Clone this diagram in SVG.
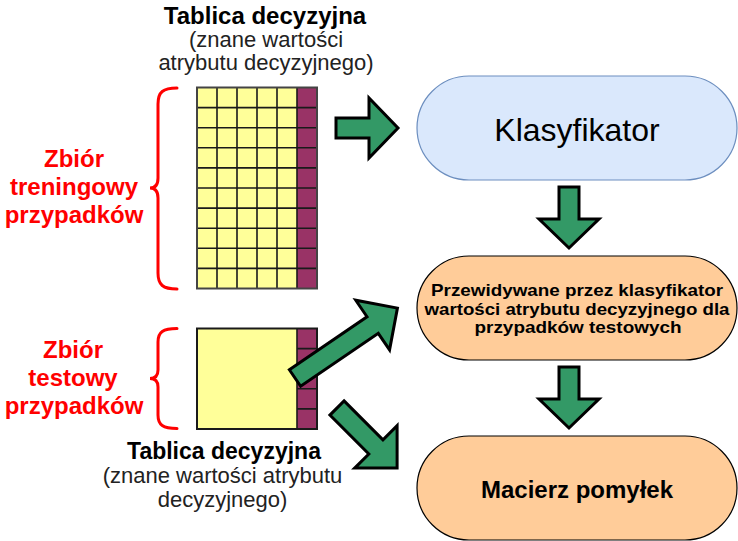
<svg xmlns="http://www.w3.org/2000/svg" width="738" height="541" viewBox="0 0 738 541">
<style>
text{font-family:"Liberation Sans",Arial,sans-serif;text-anchor:middle}
.red{fill:#ff0000;font-weight:bold;font-size:24px}
.ttl{fill:#000;font-weight:bold}
.sub{fill:#222;font-size:22px}
.brace{fill:none;stroke:#ff0000;stroke-width:3;stroke-linecap:round}
.yel{fill:#ffff99}
.pur{fill:#993366}
.gl{fill:none;stroke:#1a1a1a;stroke-width:1.6}
.border{fill:none;stroke:#444;stroke-width:2}
.arrow{fill:#339966;stroke:#000;stroke-width:3;stroke-linejoin:miter}
.term{stroke-width:1.2}
</style>
<rect width="738" height="541" fill="#fff"/>

<g id="train-label">
<text class="red" x="74" y="167">Zbiór</text>
<text class="red" x="74" y="195">treningowy</text>
<text class="red" x="74" y="223">przypadków</text>
<path class="brace" d="M177,88 C163,88 158,92 158,104 L158,178 C158,185 155,188 150,188 C155,188 158,191 158,198 L158,273 C158,285 163,289 177,289"/>
</g>

<g id="train-table">
<text class="ttl" x="265" y="24" font-size="24">Tablica decyzyjna</text>
<text class="sub" x="266" y="47">(znane wartości</text>
<text class="sub" x="266" y="70">atrybutu decyzyjnego)</text>
<rect class="yel" x="197" y="87.5" width="100" height="201"/>
<rect class="pur" x="297" y="87.5" width="20" height="201"/>
<path class="gl" d="M217,87.5V288.5M237,87.5V288.5M257,87.5V288.5M277,87.5V288.5M297,87.5V288.5M197,107.6H317M197,127.7H317M197,147.8H317M197,167.9H317M197,188H317M197,208.1H317M197,228.2H317M197,248.3H317M197,268.4H317"/>
<rect class="border" x="197" y="87.5" width="120" height="201"/>
</g>

<g id="test-label">
<text class="red" x="73" y="358">Zbiór</text>
<text class="red" x="73" y="386">testowy</text>
<text class="red" x="74" y="414">przypadków</text>
<path class="brace" d="M177,328.5 C163,328.5 158,332 158,342 L158,370 C158,376 155,378.5 150,378.5 C155,378.5 158,381 158,387 L158,415 C158,425 163,428.5 177,428.5"/>
</g>

<g id="test-table">
<rect class="yel" x="197" y="328.5" width="100" height="100.5"/>
<rect class="pur" x="297" y="328.5" width="20" height="100.5"/>
<path class="gl" d="M297,328.5V429M297,348.6H317M297,368.7H317M297,388.8H317M297,408.9H317"/>
<rect fill="none" stroke="#1a1a1a" stroke-width="2" x="197" y="328.5" width="120" height="100.5"/>
<text class="ttl" x="224" y="459" font-size="23">Tablica decyzyjna</text>
<text class="sub" x="222.5" y="483">(znane wartości atrybutu</text>
<text class="sub" x="222.5" y="507">decyzyjnego)</text>
</g>

<g id="klasyfikator">
<rect x="417" y="76" width="320" height="104" rx="52" ry="52" fill="#dae8fc" stroke="#6c8ebf" stroke-width="1.2"/>
<text x="577" y="141" font-size="32" fill="#000">Klasyfikator</text>
</g>

<g id="przewidywane">
<rect class="term" x="417" y="256" width="320" height="104" rx="52" ry="52" fill="#ffcc99" stroke="#000"/>
<text class="ttl" x="577" y="296" font-size="16.5" textLength="292" lengthAdjust="spacingAndGlyphs">Przewidywane przez klasyfikator</text>
<text class="ttl" x="577" y="314.5" font-size="16.5" textLength="305" lengthAdjust="spacingAndGlyphs">wartości atrybutu decyzyjnego dla</text>
<text class="ttl" x="578" y="333" font-size="16.5" textLength="207" lengthAdjust="spacingAndGlyphs">przypadków testowych</text>
</g>

<g id="macierz">
<rect class="term" x="417" y="436" width="320" height="104" rx="52" ry="52" fill="#ffcc99" stroke="#000"/>
<text class="ttl" x="577" y="498" font-size="24">Macierz pomyłek</text>
</g>

<g id="connectors">
<path class="arrow" d="M336,118 L369,118 L369,98 L398,128 L369,158 L369,138 L336,138 Z"/>
<path class="arrow" d="M559,187 L579,187 L579,219 L599,219 L569,248 L539,219 L559,219 Z"/>
<path class="arrow" d="M559,367 L579,367 L579,399 L599,399 L569,428 L539,399 L559,399 Z"/>
<path class="arrow" transform="translate(295,378) rotate(-34.3)" d="M0,-10 L94,-10 L94,-30 L124,0 L94,30 L94,10 L0,10 Z"/>
<path class="arrow" transform="translate(337,408) rotate(45)" d="M0,-10 L55,-10 L55,-30 L85,0 L55,30 L55,10 L0,10 Z"/>
</g>
</svg>
